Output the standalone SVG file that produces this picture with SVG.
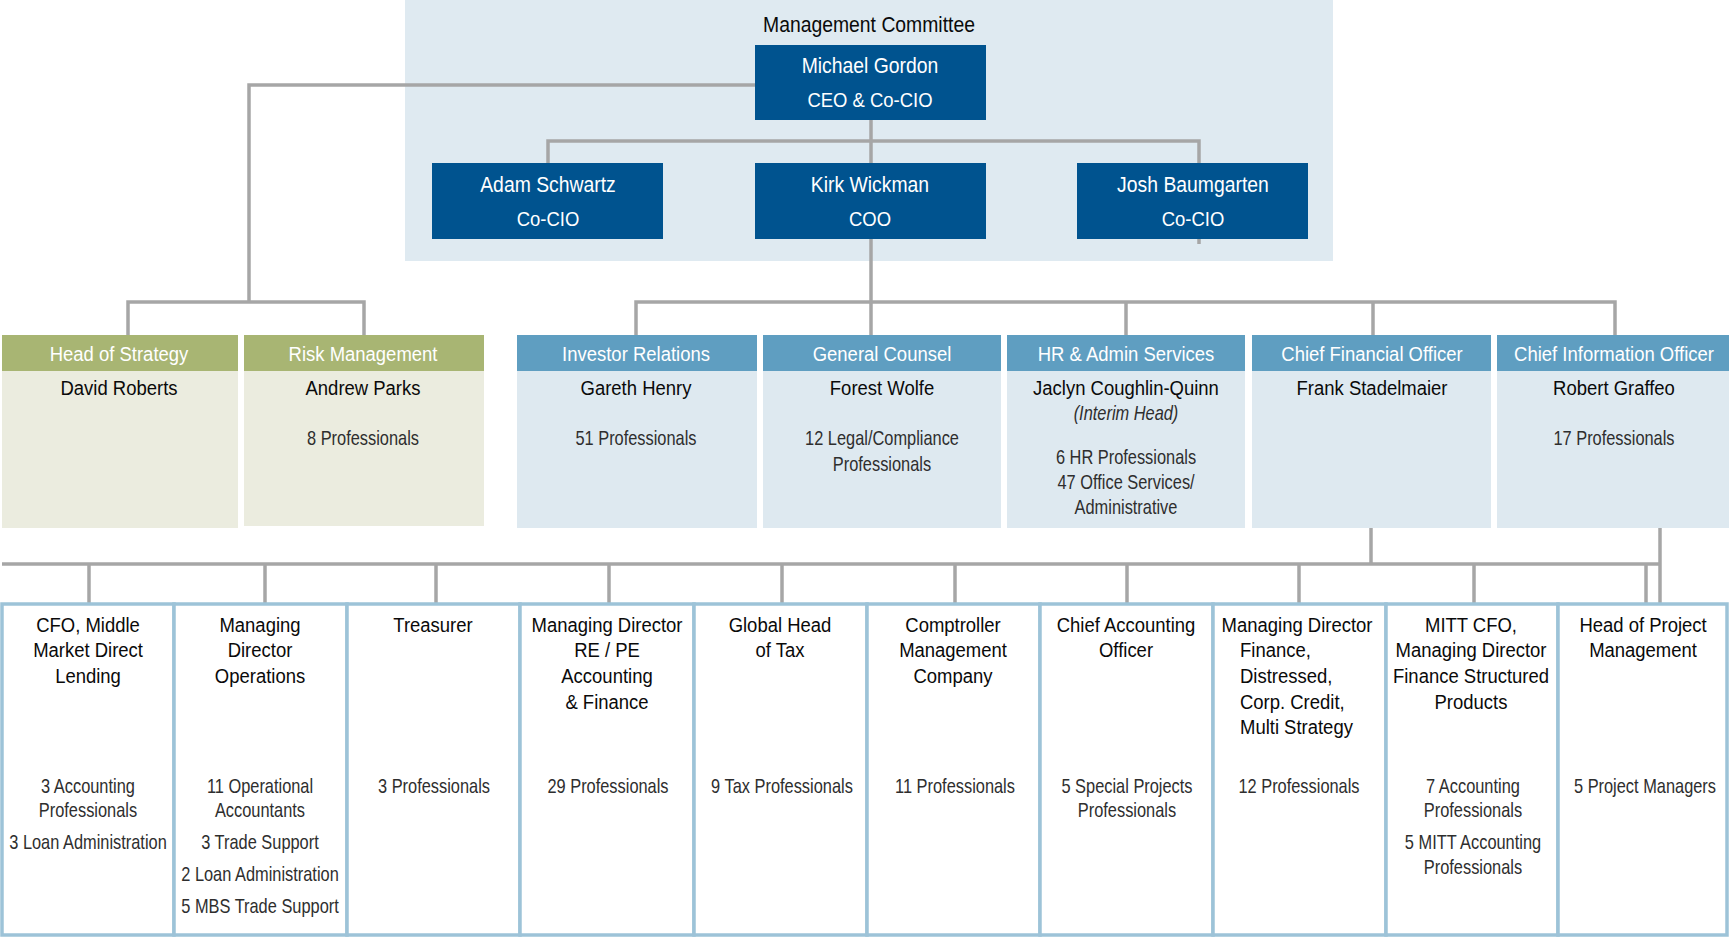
<svg xmlns="http://www.w3.org/2000/svg" width="1729" height="937" viewBox="0 0 1729 937">
  <style>
    text { font-family: "Liberation Sans", Arial, sans-serif; text-anchor: middle; dominant-baseline: central;
           transform-box: fill-box; transform-origin: center; transform: scaleX(0.88); }
    .exec { fill: #00538F; }
    .exec-t { fill: #ffffff; font-size: 22px; }
    .exec-s { fill: #ffffff; font-size: 21px; }
    .hdr-g { fill: #A8B573; }
    .body-g { fill: #EBECDF; }
    .hdr-b { fill: #5F9EC1; }
    .body-b { fill: #DEE9F0; }
    .hdr-t { fill: #ffffff; font-size: 21px; }
    .name { fill: #0a0a0a; font-size: 21px; }
    .body { fill: #2e2e2e; font-size: 20px; transform: scaleX(0.82); }
    .ital { font-style: italic; }
    .unit { fill: #ffffff; stroke: #9DC3D8; stroke-width: 3.5; }
    .title { fill: #0a0a0a; font-size: 21px; }
    .left { text-anchor: start; transform-origin: left center; }
    .conn { fill: none; stroke: #A6A6A6; stroke-width: 3.5; }
  </style>

  <!-- Management committee panel -->
  <rect x="405" y="0" width="928" height="261" fill="#DFEAF1"/>
  <text x="869" y="24" style="font-size:22px; fill:#0a0a0a">Management Committee</text>

  <!-- Connectors -->
  <g id="connectors" class="conn">
    <path d="M755 85 H249 V302"/>
    <path d="M128 335 V302 H364 V335"/>
    <path d="M871 120 V141"/>
    <path d="M548 163 V141 H1199 V244"/>
    <path d="M871 141 V163"/>
    <path d="M871 239 V302"/>
    <path d="M636 335 V302 H1615 V335"/>
    <path d="M871 302 V335"/>
    <path d="M1126 302 V335"/>
    <path d="M1373 302 V335"/>
    <path d="M1371 527 V564"/>
    <path d="M2 564 H1660"/>
    <path d="M1660 527 V604"/>
    <path d="M89 564 V604 M265 564 V604 M436 564 V604 M609 564 V604 M782 564 V604 M955 564 V604 M1127 564 V604 M1299 564 V604 M1474 564 V604 M1646 564 V604"/>
  </g>

  <!-- Executives -->
  <g id="michael-gordon">
    <rect class="exec" x="755" y="45" width="231" height="75"/>
    <text class="exec-t" x="870" y="65">Michael Gordon</text>
    <text class="exec-s" x="870" y="100">CEO &amp; Co-CIO</text>
  </g>
  <g id="adam-schwartz">
    <rect class="exec" x="432" y="163" width="231" height="76"/>
    <text class="exec-t" x="548" y="184">Adam Schwartz</text>
    <text class="exec-s" x="548" y="219">Co-CIO</text>
  </g>
  <g id="kirk-wickman">
    <rect class="exec" x="755" y="163" width="231" height="76"/>
    <text class="exec-t" x="870" y="184">Kirk Wickman</text>
    <text class="exec-s" x="870" y="219">COO</text>
  </g>
  <g id="josh-baumgarten">
    <rect class="exec" x="1077" y="163" width="231" height="76"/>
    <text class="exec-t" x="1193" y="184">Josh Baumgarten</text>
    <text class="exec-s" x="1193" y="219">Co-CIO</text>
  </g>

  <!-- Department heads -->
  <g id="head-of-strategy">
    <rect class="body-g" x="2" y="335" width="236" height="193"/>
    <rect class="hdr-g" x="2" y="335" width="236" height="36"/>
    <text class="hdr-t" x="119" y="354">Head of Strategy</text>
    <text class="name" x="119" y="388">David Roberts</text>
  </g>
  <g id="risk-management">
    <rect class="body-g" x="244" y="335" width="240" height="191"/>
    <rect class="hdr-g" x="244" y="335" width="240" height="36"/>
    <text class="hdr-t" x="363" y="354">Risk Management</text>
    <text class="name" x="363" y="388">Andrew Parks</text>
    <text class="body" x="363" y="438">8 Professionals</text>
  </g>
  <g id="investor-relations">
    <rect class="body-b" x="517" y="335" width="240" height="193"/>
    <rect class="hdr-b" x="517" y="335" width="240" height="36"/>
    <text class="hdr-t" x="636" y="354">Investor Relations</text>
    <text class="name" x="636" y="388">Gareth Henry</text>
    <text class="body" x="636" y="438">51 Professionals</text>
  </g>
  <g id="general-counsel">
    <rect class="body-b" x="763" y="335" width="238" height="193"/>
    <rect class="hdr-b" x="763" y="335" width="238" height="36"/>
    <text class="hdr-t" x="882" y="354">General Counsel</text>
    <text class="name" x="882" y="388">Forest Wolfe</text>
    <text class="body" x="882" y="438">12 Legal/Compliance</text>
    <text class="body" x="882" y="464">Professionals</text>
  </g>
  <g id="hr-admin-services">
    <rect class="body-b" x="1007" y="335" width="238" height="193"/>
    <rect class="hdr-b" x="1007" y="335" width="238" height="36"/>
    <text class="hdr-t" x="1126" y="354">HR &amp; Admin Services</text>
    <text class="name" x="1126" y="388">Jaclyn Coughlin-Quinn</text>
    <text class="body ital" x="1126" y="413">(Interim Head)</text>
    <text class="body" x="1126" y="457">6 HR Professionals</text>
    <text class="body" x="1126" y="482">47 Office Services/</text>
    <text class="body" x="1126" y="507">Administrative</text>
  </g>
  <g id="chief-financial-officer">
    <rect class="body-b" x="1252" y="335" width="239" height="193"/>
    <rect class="hdr-b" x="1252" y="335" width="239" height="36"/>
    <text class="hdr-t" x="1372" y="354">Chief Financial Officer</text>
    <text class="name" x="1372" y="388">Frank Stadelmaier</text>
  </g>
  <g id="chief-information-officer">
    <rect class="body-b" x="1497" y="335" width="232" height="193"/>
    <rect class="hdr-b" x="1497" y="335" width="232" height="36"/>
    <text class="hdr-t" x="1614" y="354">Chief Information Officer</text>
    <text class="name" x="1614" y="388">Robert Graffeo</text>
    <text class="body" x="1614" y="438">17 Professionals</text>
  </g>

  <!-- Finance units -->
  <g id="cfo-middle-market">
    <rect class="unit" x="2" y="604" width="172" height="331"/>
    <text class="title" x="88" y="625">CFO, Middle</text>
    <text class="title" x="88" y="650">Market Direct</text>
    <text class="title" x="88" y="676">Lending</text>
    <text class="body" x="88" y="786">3 Accounting</text>
    <text class="body" x="88" y="810">Professionals</text>
    <text class="body" x="88" y="842">3 Loan Administration</text>
  </g>
  <g id="md-operations">
    <rect class="unit" x="174" y="604" width="173" height="331"/>
    <text class="title" x="260" y="625">Managing</text>
    <text class="title" x="260" y="650">Director</text>
    <text class="title" x="260" y="676">Operations</text>
    <text class="body" x="260" y="786">11 Operational</text>
    <text class="body" x="260" y="810">Accountants</text>
    <text class="body" x="260" y="842">3 Trade Support</text>
    <text class="body" x="260" y="874">2 Loan Administration</text>
    <text class="body" x="260" y="906">5 MBS Trade Support</text>
  </g>
  <g id="treasurer">
    <rect class="unit" x="347" y="604" width="173" height="331"/>
    <text class="title" x="433" y="625">Treasurer</text>
    <text class="body" x="434" y="786">3 Professionals</text>
  </g>
  <g id="md-re-pe">
    <rect class="unit" x="520" y="604" width="174" height="331"/>
    <text class="title" x="607" y="625">Managing Director</text>
    <text class="title" x="607" y="650">RE / PE</text>
    <text class="title" x="607" y="676">Accounting</text>
    <text class="title" x="607" y="702">&amp; Finance</text>
    <text class="body" x="608" y="786">29 Professionals</text>
  </g>
  <g id="global-head-of-tax">
    <rect class="unit" x="694" y="604" width="173" height="331"/>
    <text class="title" x="780" y="625">Global Head</text>
    <text class="title" x="780" y="650">of Tax</text>
    <text class="body" x="782" y="786">9 Tax Professionals</text>
  </g>
  <g id="comptroller">
    <rect class="unit" x="867" y="604" width="173" height="331"/>
    <text class="title" x="953" y="625">Comptroller</text>
    <text class="title" x="953" y="650">Management</text>
    <text class="title" x="953" y="676">Company</text>
    <text class="body" x="955" y="786">11 Professionals</text>
  </g>
  <g id="chief-accounting-officer">
    <rect class="unit" x="1040" y="604" width="173" height="331"/>
    <text class="title" x="1126" y="625">Chief Accounting</text>
    <text class="title" x="1126" y="650">Officer</text>
    <text class="body" x="1127" y="786">5 Special Projects</text>
    <text class="body" x="1127" y="810">Professionals</text>
  </g>
  <g id="md-finance-distressed">
    <rect class="unit" x="1213" y="604" width="173" height="331"/>
    <text class="title" x="1297" y="625">Managing Director</text>
    <text class="title left" x="1240" y="650">Finance,</text>
    <text class="title left" x="1240" y="676">Distressed,</text>
    <text class="title left" x="1240" y="702">Corp. Credit,</text>
    <text class="title left" x="1240" y="727">Multi Strategy</text>
    <text class="body" x="1299" y="786">12 Professionals</text>
  </g>
  <g id="mitt-cfo">
    <rect class="unit" x="1386" y="604" width="172" height="331"/>
    <text class="title" x="1471" y="625">MITT CFO,</text>
    <text class="title" x="1471" y="650">Managing Director</text>
    <text class="title" x="1471" y="676">Finance Structured</text>
    <text class="title" x="1471" y="702">Products</text>
    <text class="body" x="1473" y="786">7 Accounting</text>
    <text class="body" x="1473" y="810">Professionals</text>
    <text class="body" x="1473" y="842">5 MITT Accounting</text>
    <text class="body" x="1473" y="867">Professionals</text>
  </g>
  <g id="head-of-project-management">
    <rect class="unit" x="1558" y="604" width="169" height="331"/>
    <text class="title" x="1643" y="625">Head of Project</text>
    <text class="title" x="1643" y="650">Management</text>
    <text class="body" x="1645" y="786">5 Project Managers</text>
  </g>
</svg>
